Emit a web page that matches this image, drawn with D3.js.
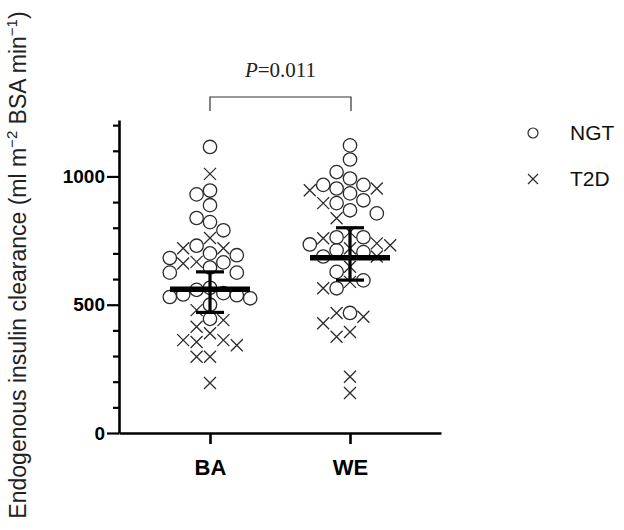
<!DOCTYPE html>
<html>
<head>
<meta charset="utf-8">
<script src="https://cdn.jsdelivr.net/npm/d3@7"></script>
<style>
  body { margin: 0; background: #fff; }
  svg { display: block; }
  text { font-family: "Liberation Sans", Arial, sans-serif; }
</style>
</head>
<body>
<svg width="624" height="530"></svg>
<script>
// values
var groups = ["BA", "WE"];
var series = ["NGT", "T2D"];

var baNGT = [1115, 945, 930, 888, 838, 822, 790, 730, 700, 693, 682, 665, 645, 625, 625, 566, 558, 545, 540, 537, 530, 525, 500, 445];
var baT2D = [1010, 760, 720, 720, 667, 661, 479, 440, 414, 389, 362, 362, 355, 342, 297, 297, 195];
var weNGT = [1121, 1066, 1017, 992, 967, 967, 953, 934, 907, 896, 868, 856, 763, 763, 735, 712, 705, 688, 628, 595, 564, 468];
var weT2D = [953, 946, 896, 837, 783, 759, 739, 732, 720, 688, 648, 589, 564, 468, 453, 428, 394, 375, 219, 156];

// centre line and whiskers for each group
var centre = [560, 683];
var lower = [470, 596];
var upper = [628, 800];

var yTicks = [0, 100, 200, 300, 400, 500, 600, 700, 800, 900, 1000, 1100, 1200];
var yLabels = [0, 500, 1000];
var pText = "0.011";

var svg = d3.select("svg");

var y = d3.scaleLinear().domain([0, 1220]).range([433, 120]);
var x = d3.scalePoint().domain(groups).range([119, 441]).padding(0.65);

// y axis
var yAxis = svg.append("g")
    .attr("transform", "translate(119,0)")
    .call(d3.axisLeft(y).tickValues(yTicks).tickSize(6).tickSizeOuter(0)
        .tickFormat(function(d){ return yLabels.indexOf(d) >= 0 ? d : ""; }));
yAxis.select(".domain").attr("stroke-width", 2.6);
yAxis.selectAll(".tick line").attr("stroke-width", 2.2)
    .attr("x2", function(d){ return yLabels.indexOf(d) >= 0 ? -12 : -6; });
yAxis.selectAll(".tick text")
    .attr("x", -14)
    .attr("font-size", 19).attr("font-weight", "bold")
    .style("font-family", "'Liberation Sans', Arial, sans-serif");

// x axis
var xAxis = svg.append("g")
    .attr("transform", "translate(0,433)")
    .call(d3.axisBottom(x).tickSize(11).tickSizeOuter(0).tickPadding(15));
xAxis.select(".domain").attr("stroke-width", 2.6);
xAxis.selectAll(".tick line").attr("stroke-width", 2.6);
xAxis.selectAll(".tick text")
    .attr("font-size", 22).attr("font-weight", "bold")
    .style("font-family", "'Liberation Sans', Arial, sans-serif");

// y label
var ylab = svg.append("text")
    .attr("transform", "translate(26,265) rotate(-90)")
    .attr("text-anchor", "middle")
    .attr("font-size", 23)
    .attr("fill", "#222");
ylab.append("tspan").text("Endogenous insulin clearance (ml m");
ylab.append("tspan").attr("dy", -9).attr("font-size", 15).text("\u22122");
ylab.append("tspan").attr("dy", 9).text(" BSA min");
ylab.append("tspan").attr("dy", -9).attr("font-size", 15).text("\u22121");
ylab.append("tspan").attr("dy", 9).text(")");

// simple column swarm (max 3 columns each side) so the points spread like the original
var step = 13.4, minGap = 14;
function swarm(ngt, t2d, cx) {
  var pts = ngt.map(function(v){ return {v: v, s: "NGT"}; })
      .concat(t2d.map(function(v){ return {v: v, s: "T2D"}; }));
  pts.sort(function(a, b){ return b.v - a.v; });
  var placed = [];
  var order = [0, -1, 1, -2, 2, -3, 3];
  pts.forEach(function(p){
    var best = null, bestGap = -1;
    for (var i = 0; i < order.length; i++) {
      var k = order[i];
      var gap = d3.min(placed.filter(function(q){ return q.col === k; }),
          function(q){ return Math.abs(y(q.v) - y(p.v)); });
      if (gap === undefined) gap = Infinity;
      if (gap >= minGap) { best = k; break; }
      if (gap > bestGap) { bestGap = gap; best = k; }
    }
    p.col = best;
    p.cx = cx + p.col * step;
    placed.push(p);
  });
  return pts;
}

var allPts = swarm(baNGT, baT2D, x("BA")).concat(swarm(weNGT, weT2D, x("WE")));

var markColor = "#2b2b2b";
var xs = 6;

svg.selectAll(".ngt")
    .data(allPts.filter(function(d){ return d.s === "NGT"; }))
    .enter().append("circle")
    .attr("class", "ngt")
    .attr("cx", function(d){ return d.cx; })
    .attr("cy", function(d){ return y(d.v); })
    .attr("r", 6.7)
    .attr("fill", "none")
    .attr("stroke", markColor)
    .attr("stroke-width", 1.3);

svg.selectAll(".t2d")
    .data(allPts.filter(function(d){ return d.s === "T2D"; }))
    .enter().append("path")
    .attr("class", "t2d")
    .attr("d", function(d){
      var cx = d.cx, cy = y(d.v);
      return "M" + (cx - xs) + "," + (cy - xs) + "L" + (cx + xs) + "," + (cy + xs) +
             "M" + (cx - xs) + "," + (cy + xs) + "L" + (cx + xs) + "," + (cy - xs);
    })
    .attr("fill", "none")
    .attr("stroke", markColor)
    .attr("stroke-width", 1.3);

// centre bar + whiskers
groups.forEach(function(g, i){
  var cx = x(g);
  svg.append("line")
    .attr("x1", cx).attr("x2", cx)
    .attr("y1", y(upper[i])).attr("y2", y(lower[i]))
    .attr("stroke", "#000").attr("stroke-width", 3.2);
  [upper[i], lower[i]].forEach(function(v){
    svg.append("line")
      .attr("x1", cx - 14).attr("x2", cx + 14)
      .attr("y1", y(v)).attr("y2", y(v))
      .attr("stroke", "#000").attr("stroke-width", 3.2);
  });
  svg.append("line")
    .attr("x1", cx - 40).attr("x2", cx + 40)
    .attr("y1", y(centre[i])).attr("y2", y(centre[i]))
    .attr("stroke", "#000").attr("stroke-width", 5.5);
});

// significance bracket
var bx1 = x("BA"), bx2 = x("WE") + 1;
svg.append("path")
    .attr("d", "M" + bx1 + ",111V97H" + bx2 + "V111")
    .attr("fill", "none")
    .attr("stroke", "#333")
    .attr("stroke-width", 1.2);
var pt = svg.append("text")
    .attr("x", (bx1 + bx2) / 2)
    .attr("y", 77)
    .attr("text-anchor", "middle")
    .attr("font-size", 21)
    .attr("fill", "#222")
    .style("font-family", "'Liberation Serif', 'Times New Roman', serif");
pt.append("tspan").attr("font-style", "italic").text("P");
pt.append("tspan").text("=" + pText);

// legend
var legend = svg.append("g").attr("transform", "translate(533,0)");
series.forEach(function(s, i){
  var cy = 133 + i * 46;
  if (s === "NGT") {
    legend.append("circle").attr("cx", 0).attr("cy", cy).attr("r", 5)
      .attr("fill", "none").attr("stroke", markColor).attr("stroke-width", 1.2);
  } else {
    legend.append("path")
      .attr("d", "M-5," + (cy - 5) + "L5," + (cy + 5) + "M-5," + (cy + 5) + "L5," + (cy - 5))
      .attr("stroke", markColor).attr("stroke-width", 1.2);
  }
  legend.append("text")
    .attr("x", 37).attr("y", cy + 7)
    .attr("font-size", 21)
    .attr("fill", "#111")
    .text(s);
});
</script>
</body>
</html>
